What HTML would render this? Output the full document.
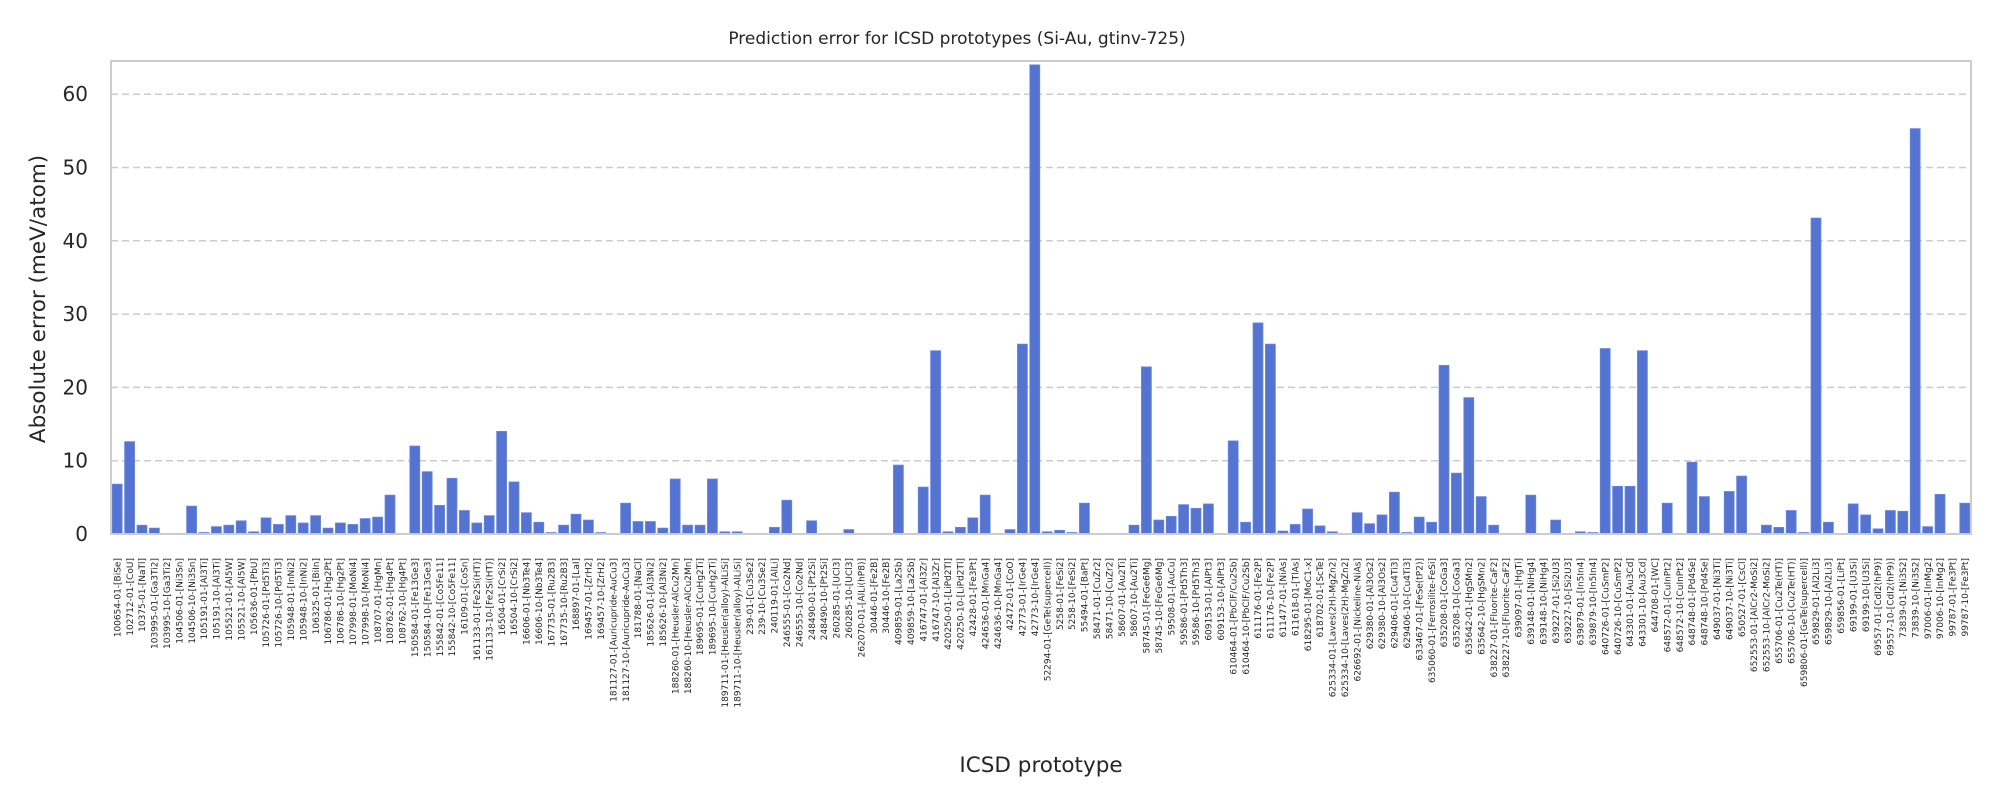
<!DOCTYPE html>
<html><head><meta charset="utf-8"><style>
html,body{margin:0;padding:0;background:#fff;}
svg{display:block;font-family:"DejaVu Sans","Liberation Sans",sans-serif;}
</style></head><body>
<svg id="chart" width="2000" height="800" xmlns="http://www.w3.org/2000/svg">
<text x="957" y="44" text-anchor="middle" font-size="17" fill="#262626">Prediction error for ICSD prototypes (Si-Au, gtinv-725)</text>
<text x="1041" y="772" text-anchor="middle" font-size="21.5" fill="#262626">ICSD prototype</text>
<text transform="translate(45,299) rotate(-90)" text-anchor="middle" font-size="21.5" fill="#262626">Absolute error (meV/atom)</text>
<g id="grid"></g><g id="bars"></g><g id="yticks"></g><g id="xticks"></g>
<rect x="111" y="61" width="1860" height="473" fill="none" stroke="#cccccc" stroke-width="2"/>
</svg>
<script>
const categories = ["100654-01-[BiSe]","102712-01-[CoU]","10375-01-[NaTl]","103995-01-[Ga3Ti2]","103995-10-[Ga3Ti2]","104506-01-[Ni3Sn]","104506-10-[Ni3Sn]","105191-01-[Al3Ti]","105191-10-[Al3Ti]","105521-01-[Al5W]","105521-10-[Al5W]","105636-01-[PbU]","105726-01-[Pd5Ti3]","105726-10-[Pd5Ti3]","105948-01-[InNi2]","105948-10-[InNi2]","106325-01-[BiIn]","106786-01-[Hg2Pt]","106786-10-[Hg2Pt]","107998-01-[MoNi4]","107998-10-[MoNi4]","108707-01-[HgMn]","108762-01-[Hg4Pt]","108762-10-[Hg4Pt]","150584-01-[Fe13Ge3]","150584-10-[Fe13Ge3]","155842-01-[Co5Fe11]","155842-10-[Co5Fe11]","16109-01-[CoSn]","161133-01-[Fe2Si(HT)]","161133-10-[Fe2Si(HT)]","16504-01-[CrSi2]","16504-10-[CrSi2]","16606-01-[Nb3Te4]","16606-10-[Nb3Te4]","167735-01-[Ru2B3]","167735-10-[Ru2B3]","168897-01-[LaI]","169457-01-[ZrH2]","169457-10-[ZrH2]","181127-01-[Auricupride-AuCu3]","181127-10-[Auricupride-AuCu3]","181788-01-[NaCl]","185626-01-[Al3Ni2]","185626-10-[Al3Ni2]","188260-01-[Heusler-AlCu2Mn]","188260-10-[Heusler-AlCu2Mn]","189695-01-[CuHg2Ti]","189695-10-[CuHg2Ti]","189711-01-[Heusler(alloy)-AlLiSi]","189711-10-[Heusler(alloy)-AlLiSi]","239-01-[Cu3Se2]","239-10-[Cu3Se2]","240119-01-[AlLi]","246555-01-[Co2Nd]","246555-10-[Co2Nd]","248490-01-[Pt2Si]","248490-10-[Pt2Si]","260285-01-[UCl3]","260285-10-[UCl3]","262070-01-[AlLi(hP8)]","30446-01-[Fe2B]","30446-10-[Fe2B]","409859-01-[La2Sb]","409859-10-[La2Sb]","416747-01-[Al3Zr]","416747-10-[Al3Zr]","420250-01-[LiPd2Tl]","420250-10-[LiPd2Tl]","42428-01-[Fe3Pt]","424636-01-[MnGa4]","424636-10-[MnGa4]","42472-01-[CoO]","42773-01-[IrGe4]","42773-10-[IrGe4]","52294-01-[GeTe(supercell)]","5258-01-[FeSi2]","5258-10-[FeSi2]","55494-01-[BaPt]","58471-01-[CuZr2]","58471-10-[CuZr2]","58607-01-[Au2Ti]","58607-10-[Au2Ti]","58745-01-[FeGe6Mg]","58745-10-[FeGe6Mg]","59508-01-[AuCu]","59586-01-[Pd5Th3]","59586-10-[Pd5Th3]","609153-01-[AlPt3]","609153-10-[AlPt3]","610464-01-[PbClF/Cu2Sb]","610464-10-[PbClF/Cu2Sb]","611176-01-[Fe2P]","611176-10-[Fe2P]","611477-01-[NiAs]","611618-01-[TlAs]","618295-01-[MoC1-x]","618702-01-[ScTe]","625334-01-[Laves(2H)-MgZn2]","625334-10-[Laves(2H)-MgZn2]","626692-01-[Nickeline-NiAs]","629380-01-[Al3Os2]","629380-10-[Al3Os2]","629406-01-[Cu4Ti3]","629406-10-[Cu4Ti3]","633467-01-[FeSe(tP2)]","635060-01-[Ferrosilite-FeSi]","635208-01-[CoGa3]","635208-10-[CoGa3]","635642-01-[HgSMn2]","635642-10-[HgSMn2]","638227-01-[Fluorite-CaF2]","638227-10-[Fluorite-CaF2]","639097-01-[HgTi]","639148-01-[NiHg4]","639148-10-[NiHg4]","639227-01-[Si2U3]","639227-10-[Si2U3]","639879-01-[In5In4]","639879-10-[In5In4]","640726-01-[CuSmP2]","640726-10-[CuSmP2]","643301-01-[Au3Cd]","643301-10-[Au3Cd]","644708-01-[WC]","648572-01-[CuInPt2]","648572-10-[CuInPt2]","648748-01-[Pd4Se]","648748-10-[Pd4Se]","649037-01-[Ni3Ti]","649037-10-[Ni3Ti]","650527-01-[CsCl]","652553-01-[AlCr2-MoSi2]","652553-10-[AlCr2-MoSi2]","655706-01-[Cu2Te(HT)]","655706-10-[Cu2Te(HT)]","659806-01-[GeTe(supercell)]","659829-01-[Al2Li3]","659829-10-[Al2Li3]","659856-01-[LiPt]","69199-01-[U3Si]","69199-10-[U3Si]","69557-01-[CdI2(hP9)]","69557-10-[CdI2(hP9)]","73839-01-[Ni3S2]","73839-10-[Ni3S2]","97006-01-[InMg2]","97006-10-[InMg2]","99787-01-[Fe3Pt]","99787-10-[Fe3Pt]"];
const errors = [6.8,12.6,1.2,0.8,0,0,3.8,0.2,1.0,1.2,1.8,0.3,2.2,1.3,2.5,1.5,2.5,0.8,1.5,1.3,2.1,2.3,5.3,0,12.0,8.5,3.9,7.6,3.2,1.5,2.5,14.0,7.1,2.9,1.6,0.2,1.2,2.7,1.9,0.2,0,4.2,1.7,1.7,0.8,7.5,1.2,1.2,7.5,0.3,0.3,0,0,0.9,4.6,0,1.8,0,0,0.6,0,0,0,9.4,0,6.4,25.0,0.3,0.9,2.2,5.3,0,0.6,25.9,64.0,0.3,0.5,0.2,4.2,0,0,0,1.2,22.8,1.9,2.4,4.0,3.5,4.1,0,12.7,1.6,28.8,25.9,0.4,1.3,3.4,1.1,0.3,0,2.9,1.4,2.6,5.7,0.2,2.3,1.6,23.0,8.3,18.6,5.1,1.2,0,0,5.3,0,1.9,0,0.3,0.2,25.3,6.5,6.5,25.0,0,4.2,0,9.8,5.1,0,5.8,7.9,0,1.2,0.9,3.2,0.2,43.1,1.6,0,4.1,2.6,0.7,3.2,3.1,55.3,1.0,5.4,0,4.2];
const yTicks = [0,10,20,30,40,50,60];

const NS = "http://www.w3.org/2000/svg";
const L = 111, R = 1971, Y0 = 534, PX_PER_UNIT = 7.33;
const step = (R - L) / categories.length;
function xScale(i){ return L + (i + 0.5) * step; }
function yScale(v){ return Y0 - v * PX_PER_UNIT; }
function mk(tag, attrs){ const e = document.createElementNS(NS, tag); for (const k in attrs) e.setAttribute(k, attrs[k]); return e; }

const grid = document.getElementById('grid'), yt = document.getElementById('yticks');
yTicks.forEach(t => {
  const ln = mk('line', {x1:L, x2:R, y1:yScale(t), y2:yScale(t), stroke:'#cccccc', 'stroke-width':1.5, 'stroke-dasharray':'7,4'});
  
  
  grid.appendChild(ln);
  const tx = mk('text', {x:88, y:yScale(t)+7, 'text-anchor':'end', 'font-size':20, fill:'#262626'});
  tx.textContent = t;
  
  
  yt.appendChild(tx);
});

const bars = document.getElementById('bars'), xt = document.getElementById('xticks');
const bw = step * 0.8;
categories.forEach((c, i) => {
  const v = errors[i];
  const b = mk('rect', {x:xScale(i)-bw/2, y:yScale(v), width:bw, height:Math.max(0, Y0 - yScale(v)), fill:'#5573d1', stroke:'#6a86dc', 'stroke-width':0.8});
  
  
  bars.appendChild(b);
  const tx = mk('text', {transform:'translate(' + (xScale(i)+3.2) + ',558) rotate(-90)', 'text-anchor':'end', 'font-size':9, fill:'#262626'});
  tx.textContent = c;
  
  
  xt.appendChild(tx);
});
</script>
</body></html>
